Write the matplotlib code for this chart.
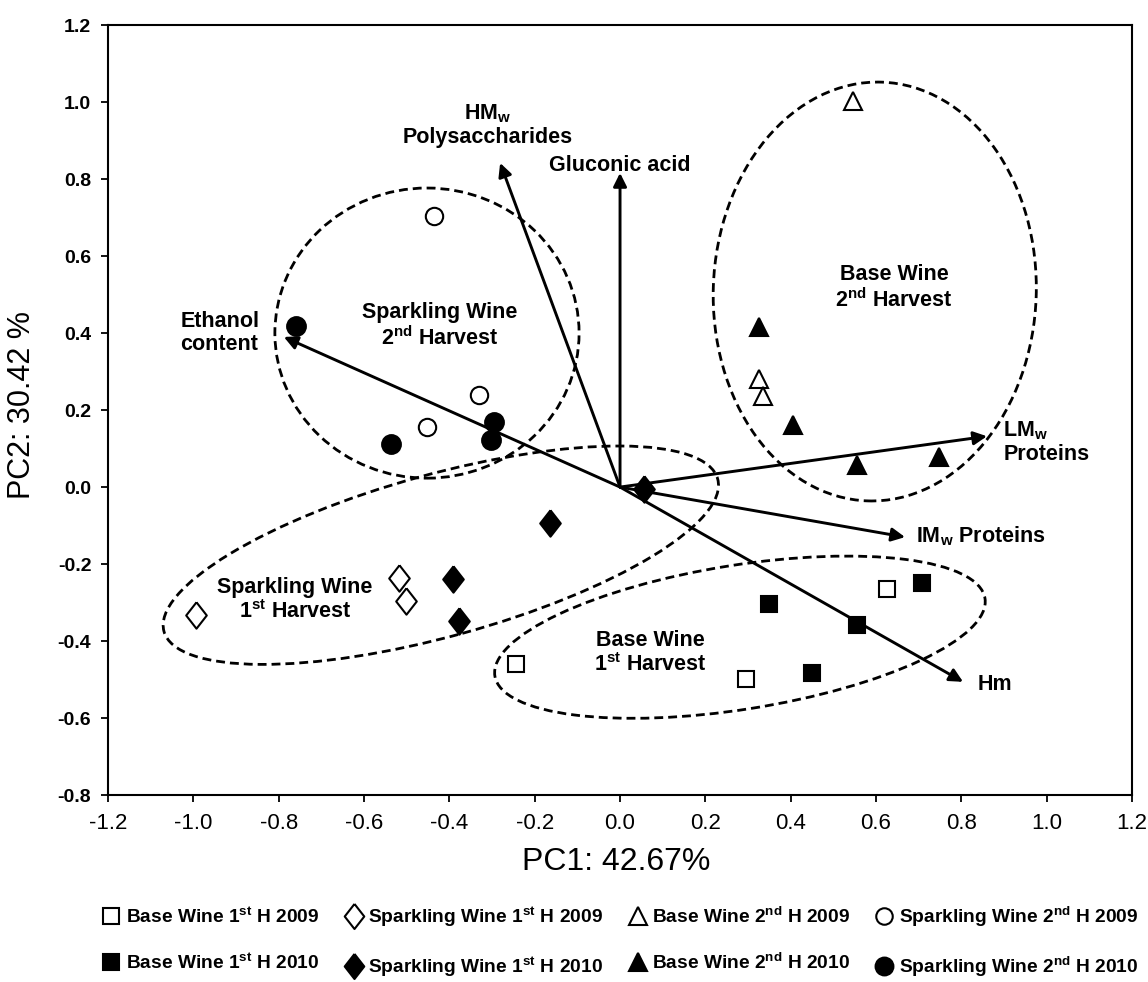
import matplotlib
matplotlib.use('Agg')
from matplotlib import pyplot as plt
from matplotlib.patches import Ellipse
from matplotlib.transforms import Affine2D

plt.rcParams['font.family'] = ['Liberation Sans', 'DejaVu Sans']
plt.rcParams['mathtext.fontset'] = 'custom'
plt.rcParams['mathtext.rm'] = 'Liberation Sans:bold'
plt.rcParams['mathtext.bf'] = 'Liberation Sans:bold'
plt.rcParams['mathtext.it'] = 'Liberation Sans:bold'

# PCA scores (PC1, PC2) for each sample group
bw1_2009_x = [-0.244, 0.295, 0.626]
bw1_2009_y = [-0.46, -0.499, -0.265]
bw1_2010_x = [0.349, 0.556, 0.45, 0.708]
bw1_2010_y = [-0.304, -0.358, -0.483, -0.249]
sw1_2009_x = [-0.994, -0.518, -0.502]
sw1_2009_y = [-0.332, -0.236, -0.296]
sw1_2010_x = [-0.164, -0.392, -0.377, 0.056]
sw1_2010_y = [-0.094, -0.239, -0.348, -0.005]
bw2_2009_x = [0.546, 0.326, 0.335]
bw2_2009_y = [1.003, 0.28, 0.236]
bw2_2010_x = [0.326, 0.406, 0.556, 0.748]
bw2_2010_y = [0.416, 0.161, 0.057, 0.078]
sw2_2009_x = [-0.436, -0.331, -0.452]
sw2_2009_y = [0.704, 0.239, 0.156]
sw2_2010_x = [-0.76, -0.537, -0.295, -0.302]
sw2_2010_y = [0.418, 0.112, 0.169, 0.122]

# loadings (arrows from origin)
load_x = [-0.281, 0.0, -0.788, 0.86, 0.668, 0.804]
load_y = [0.842, 0.816, 0.39, 0.132, -0.13, -0.506]
load_names = [r'HM$_{\mathrm{w}}$' + '\nPolysaccharides', 'Gluconic acid',
              'Ethanol\ncontent', r'LM$_{\mathrm{w}}$' + '\nProteins',
              r'IM$_{\mathrm{w}}$ Proteins', 'Hm']
load_label_pos = [(-0.31, 0.94, 'center'), (0.0, 0.836, 'center'),
                  (-1.03, 0.40, 'left'), (0.898, 0.117, 'left'),
                  (0.694, -0.127, 'left'), (0.839, -0.512, 'left')]

# group ellipses: centre x, centre y, width, height (x units), angle
groups = ['Sparkling Wine\n2$^{\\mathrm{nd}}$ Harvest',
          'Base Wine\n2$^{\\mathrm{nd}}$ Harvest',
          'Sparkling Wine\n1$^{\\mathrm{st}}$ Harvest',
          'Base Wine\n1$^{\\mathrm{st}}$ Harvest']
ell_params = [(-0.4525, 0.40, 0.713, 0.68, 0),
              (0.597, 0.508, 0.757, 0.982, -2),
              (-0.42, -0.177, 1.346, 0.38, 15.4),
              (0.281, -0.39, 1.163, 0.338, 9)]
group_label_pos = [(-0.422, 0.418), (0.642, 0.517), (-0.762, -0.293), (0.07, -0.431)]

fig = plt.figure(figsize=(11.48, 9.82), dpi=100)
ax = fig.add_axes([0.0941, 0.1904, 0.892, 0.784])
ax.set_xlim(-1.2, 1.2)
ax.set_ylim(-0.8, 1.2)

# screen aspect so tilted ellipses keep their shape
w_px = 0.892 * 1148
h_px = 0.784 * 982
k = (h_px / 2.0) / (w_px / 2.4)
for (cx, cy, w, h, ang) in ell_params:
    e = Ellipse((cx, cy * k), w, h, angle=ang, fill=False, color='k', lw=2.0,
                ls=(0, (3.2, 1.8)), transform=Affine2D().scale(1, 1 / k) + ax.transData)
    ax.add_patch(e)

for lx, ly in zip(load_x, load_y):
    ax.annotate('', xy=(lx, ly), xytext=(0, 0),
                arrowprops=dict(arrowstyle='-|>', color='k', lw=2.1,
                                mutation_scale=20, shrinkA=0, shrinkB=0))

for name, (tx, ty, ha) in zip(load_names, load_label_pos):
    ax.text(tx, ty, name, ha=ha, va='center', fontsize=15.5, fontweight='bold',
            linespacing=1.1)

for name, (tx, ty) in zip(groups, group_label_pos):
    ax.text(tx, ty, name, ha='center', va='center', fontsize=15.5,
            fontweight='bold', linespacing=1.15)

diamond = [(0, 1), (0.78, 0), (0, -1), (-0.78, 0), (0, 1)]
series = [
    (bw1_2009_x, bw1_2009_y, 's', 'white', 12, 'Base Wine 1$^{\\mathrm{st}}$ H 2009'),
    (bw1_2010_x, bw1_2010_y, 's', 'black', 12, 'Base Wine 1$^{\\mathrm{st}}$ H 2010'),
    (sw1_2009_x, sw1_2009_y, diamond, 'white', 19, 'Sparkling Wine 1$^{\\mathrm{st}}$ H 2009'),
    (sw1_2010_x, sw1_2010_y, diamond, 'black', 19, 'Sparkling Wine 1$^{\\mathrm{st}}$ H 2010'),
    (bw2_2009_x, bw2_2009_y, '^', 'white', 13.5, 'Base Wine 2$^{\\mathrm{nd}}$ H 2009'),
    (bw2_2010_x, bw2_2010_y, '^', 'black', 13.5, 'Base Wine 2$^{\\mathrm{nd}}$ H 2010'),
    (sw2_2009_x, sw2_2009_y, 'o', 'white', 12.5, 'Sparkling Wine 2$^{\\mathrm{nd}}$ H 2009'),
    (sw2_2010_x, sw2_2010_y, 'o', 'black', 13.5, 'Sparkling Wine 2$^{\\mathrm{nd}}$ H 2010'),
]
for xs, ys, m, fc, ms, lab in series:
    ax.plot(xs, ys, ls='none', marker=m, ms=ms, mfc=fc, mec='black', mew=1.5,
            label=lab, zorder=5)

ax.set_xticks([-1.2, -1.0, -0.8, -0.6, -0.4, -0.2, 0.0, 0.2, 0.4, 0.6, 0.8, 1.0, 1.2])
ax.set_yticks([-0.8, -0.6, -0.4, -0.2, 0.0, 0.2, 0.4, 0.6, 0.8, 1.0, 1.2])
ax.set_xticklabels(['%.1f' % v for v in ax.get_xticks()])
ax.set_yticklabels(['%.1f' % v for v in ax.get_yticks()])
ax.tick_params(axis='x', length=5, width=1.3, pad=8, labelsize=16)
ax.tick_params(axis='y', length=5, width=1.3, pad=7, labelsize=14)
for t in ax.get_yticklabels():
    t.set_fontweight('bold')
for s in ax.spines.values():
    s.set_linewidth(1.5)

ax.set_xlabel('PC1: 42.67%', fontsize=23)
ax.set_ylabel('PC2: 30.42 %', fontsize=22)
ax.xaxis.set_label_coords(0.496, -0.0675)
ax.yaxis.set_label_coords(-0.069, 0.506)

fig.legend(loc='center', bbox_to_anchor=(0.54, 1 - 942 / 982), ncol=4, frameon=False,
           prop={'weight': 'bold', 'size': 13.8}, handlelength=1.0, handletextpad=0.25,
           columnspacing=1.3, labelspacing=1.35, markerscale=0.95)

fig.savefig('out.png', dpi=100)
